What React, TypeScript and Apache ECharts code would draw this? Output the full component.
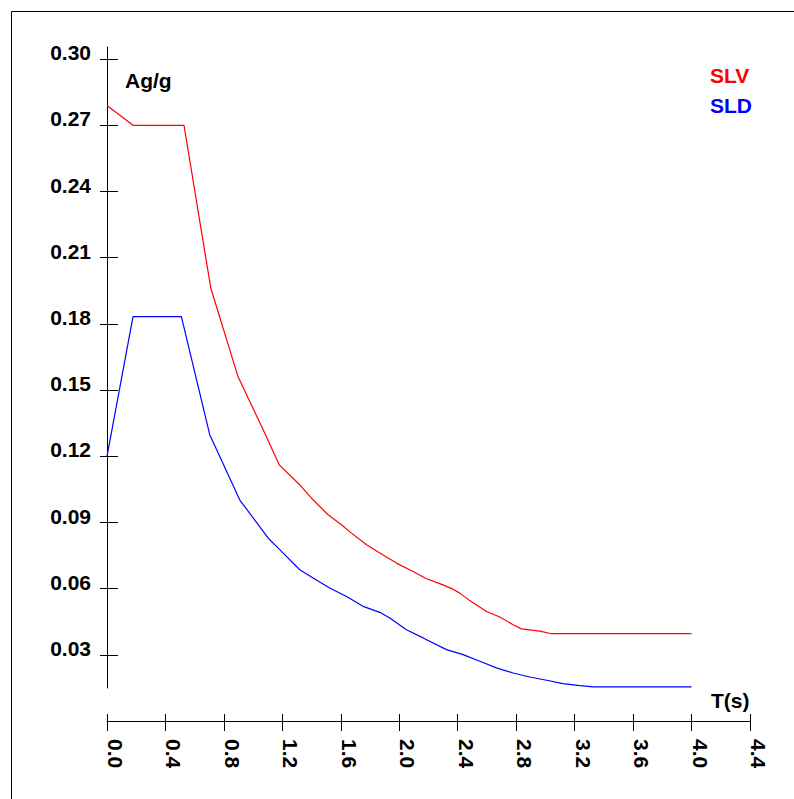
import React, { useEffect, useRef } from "react";
import * as echarts from "echarts";

// Period T (s) and spectral values Ag/g
const slvT = [0, 0.178, 0.527, 0.71, 0.896, 1.09, 1.18, 1.319, 1.41, 1.513, 1.604, 1.673, 1.776, 1.867, 1.981, 2.094, 2.186, 2.277, 2.368, 2.414, 2.483, 2.597, 2.688, 2.779, 2.836, 2.962, 3.042, 4.0];
const slvV = [0.279, 0.27, 0.27, 0.1963, 0.1562, 0.129, 0.116, 0.1071, 0.1003, 0.0935, 0.089, 0.0852, 0.0799, 0.0762, 0.0716, 0.0678, 0.0645, 0.0623, 0.0598, 0.058, 0.0546, 0.0497, 0.0472, 0.0437, 0.0418, 0.0408, 0.0396, 0.0396];

const sldT = [0, 0.178, 0.509, 0.703, 0.908, 1.102, 1.182, 1.319, 1.41, 1.524, 1.639, 1.752, 1.867, 1.935, 2.049, 2.163, 2.323, 2.437, 2.551, 2.665, 2.779, 2.893, 3.008, 3.121, 3.235, 3.327, 4.0];
const sldV = [0.12, 0.1833, 0.1833, 0.1298, 0.1003, 0.083, 0.0777, 0.0686, 0.0649, 0.0603, 0.0565, 0.052, 0.0493, 0.0467, 0.0414, 0.0377, 0.0324, 0.0301, 0.0271, 0.0241, 0.0218, 0.02, 0.0185, 0.017, 0.0161, 0.0155, 0.0155];

const yTicks = [0.03, 0.06, 0.09, 0.12, 0.15, 0.18, 0.21, 0.24, 0.27, 0.3];
const seriesNames = ["SLV", "SLD"];
const seriesColors = ["#ff0000", "#0000ff"];
const yAxisTitle = "Ag/g";
const xAxisTitle = "T(s)";

const FONT = '"Liberation Sans", Arial, sans-serif';
const FW = "bold";

export default function App() {
  const ref = useRef<HTMLDivElement>(null);
  useEffect(() => {
    if (!ref.current) return;
    const chart = echarts.init(ref.current, undefined, { renderer: "svg" });
    const slv = slvT.map((t, i) => [t, slvV[i]]);
    const sld = sldT.map((t, i) => [t, sldV[i]]);
    const xCommon = {
      type: "value",
      min: 0,
      max: 4.4,
      interval: 0.4,
      position: "bottom",
      offset: 33,
      splitLine: { show: false },
    };
    const yCommon = {
      type: "value",
      min: 0.015,
      max: 0.3055,
      position: "left",
      splitLine: { show: false },
    };
    chart.setOption({
      animation: false,
      backgroundColor: "#ffffff",
      grid: { left: 107, right: 44, top: 47, bottom: 111 },
      xAxis: [
        {
          ...xCommon,
          axisLine: { show: true, lineStyle: { color: "#000", width: 1 } },
          axisTick: { show: true, inside: false, length: 10, lineStyle: { color: "#000" } },
          axisLabel: {
            rotate: -90,
            margin: 18,
            fontSize: 21,
            fontWeight: FW,
            fontFamily: FONT,
            color: "#000",
            verticalAlign: "bottom",
            lineHeight: 17,
            formatter: (v: number) => v.toFixed(1),
          },
        },
        {
          ...xCommon,
          axisLine: { show: false },
          axisTick: { show: true, inside: true, length: 7, lineStyle: { color: "#000" } },
          axisLabel: { show: false },
        },
      ],
      yAxis: [
        {
          ...yCommon,
          axisLine: { show: true, lineStyle: { color: "#000", width: 1 } },
          axisTick: { show: true, inside: false, length: 7, customValues: yTicks, lineStyle: { color: "#000" } },
          axisLabel: {
            margin: 16,
            fontSize: 21,
            fontWeight: FW,
            fontFamily: FONT,
            color: "#000",
            verticalAlign: "bottom",
            lineHeight: 13,
            customValues: yTicks,
            formatter: (v: number) => v.toFixed(2),
          },
        },
        {
          ...yCommon,
          axisLine: { show: false },
          axisTick: { show: true, inside: true, length: 11, customValues: yTicks, lineStyle: { color: "#000" } },
          axisLabel: { show: false },
        },
      ],
      legend: {
        orient: "vertical",
        left: 705,
        top: 65,
        padding: 0,
        icon: "none",
        itemWidth: 0,
        itemHeight: 14,
        itemGap: 9,
        textStyle: { fontSize: 21, fontWeight: FW, fontFamily: FONT },
        data: seriesNames.map((n, i) => ({ name: n, textStyle: { color: seriesColors[i], fontWeight: FW } })),
      },
      graphic: [
        {
          type: "rect",
          silent: true,
          shape: { x: 11.5, y: 11.5, width: 900, height: 900 },
          style: { fill: "none", stroke: "#000", lineWidth: 1 },
        },
        {
          type: "text",
          x: 125,
          y: 80,
          style: { text: yAxisTitle, fontSize: 21, fontWeight: FW, fontFamily: FONT, fill: "#000", verticalAlign: "middle" },
        },
        {
          type: "text",
          x: 711,
          y: 700,
          style: { text: xAxisTitle, fontSize: 21, fontWeight: FW, fontFamily: FONT, fill: "#000", verticalAlign: "middle" },
        },
      ],
      series: [
        {
          name: seriesNames[0],
          type: "line",
          data: slv,
          xAxisIndex: 0,
          yAxisIndex: 0,
          showSymbol: false,
          lineStyle: { color: seriesColors[0], width: 1.2 },
          itemStyle: { color: seriesColors[0] },
        },
        {
          name: seriesNames[1],
          type: "line",
          data: sld,
          xAxisIndex: 0,
          yAxisIndex: 0,
          showSymbol: false,
          lineStyle: { color: seriesColors[1], width: 1.2 },
          itemStyle: { color: seriesColors[1] },
        },
      ],
    });
    return () => chart.dispose();
  }, []);
  return (
    <div
      ref={ref}
      style={{ position: "absolute", left: 0, top: 0, width: 794, height: 799, background: "#fff" }}
    />
  );
}
